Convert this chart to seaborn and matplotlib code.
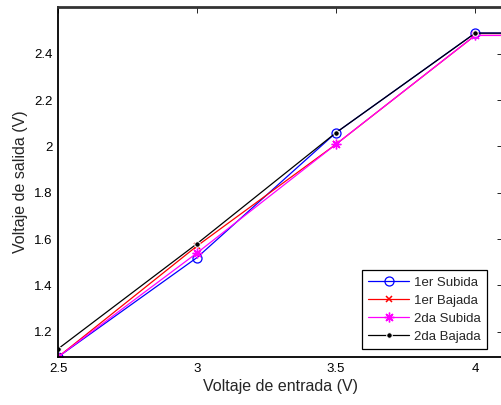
import matplotlib
matplotlib.use("Agg")
import matplotlib.pyplot as plt
import seaborn as sns
import pandas as pd

# Data
voltaje_entrada = [2.5, 3.0, 3.5, 4.0, 4.5]
subida_1 = [1.09, 1.52, 2.06, 2.49, 2.49]
bajada_1 = [1.09, 1.57, 2.01, 2.48, 2.48]
subida_2 = [1.09, 1.54, 2.01, 2.48, 2.48]
bajada_2 = [1.125, 1.58, 2.06, 2.49, 2.49]
series_names = ["1er Subida", "1er Bajada", "2da Subida", "2da Bajada"]
x_ticks = [2.5, 3, 3.5, 4]
x_tick_labels = ["2.5", "3", "3.5", "4"]
y_ticks = [1.2, 1.4, 1.6, 1.8, 2.0, 2.2, 2.4]
y_tick_labels = ["1.2", "1.4", "1.6", "1.8", "2", "2.2", "2.4"]

sns.set_style("white")
plt.rcParams["font.family"] = ["Liberation Sans", "DejaVu Sans"]

fig = plt.figure(figsize=(5.02, 4.05), dpi=100)
W, H = 502, 405
left, right, top, bottom = 58, 503, 6.5, 357
ax = fig.add_axes([left / W, 1 - bottom / H, (right - left) / W, (bottom - top) / H])

styles = [
    dict(color="#0000ff", marker="o", markersize=6.5, markerfacecolor="none",
         markeredgecolor="#0000ff", markeredgewidth=0.9),
    dict(color="#ff0000", marker="x", markersize=4.5, markeredgewidth=1.1,
         markeredgecolor="#ff0000"),
    dict(color="#ff00ff", marker=(8, 2, 0), markersize=7, markeredgewidth=1.0,
         markeredgecolor="#ff00ff"),
    dict(color="#000000", marker="o", markersize=4),
]
all_y = [subida_1, bajada_1, subida_2, bajada_2]

for name, yvals, st in zip(series_names, all_y, styles):
    df = pd.DataFrame({"x": voltaje_entrada, "y": yvals})
    sns.lineplot(data=df, x="x", y="y", ax=ax, label=name, linewidth=0.9,
                 clip_on=True, **st)

ax.set_xlim(2.5, 4.1)
ax.set_ylim(1.09, 2.605)
ax.set_xticks(x_ticks)
ax.set_xticklabels(x_tick_labels)
ax.set_yticks(y_ticks)
ax.set_yticklabels(y_tick_labels)
ax.tick_params(direction="in", length=4, width=0.6, labelsize=9.5,
               top=True, right=True, colors="black", pad=4)

for side, sp in ax.spines.items():
    sp.set_visible(True)
    sp.set_color("black")
    sp.set_linewidth(1.3)
ax.spines["top"].set_color("#333333")
ax.spines["top"].set_linewidth(2.0)

ax.set_xlabel("Voltaje de entrada (V)", fontsize=11.5, labelpad=3)
ax.set_ylabel("Voltaje de salida (V)", fontsize=11.5, labelpad=4)

leg = ax.legend(loc="lower right",
                bbox_to_anchor=((487 - left) / (right - left), (357 - 349) / (bottom - top)),
                fontsize=9.5, frameon=True, fancybox=False, framealpha=1,
                edgecolor="black", borderpad=0.45, labelspacing=0.45,
                handlelength=3.1, handletextpad=0.4, borderaxespad=0)
leg.get_frame().set_linewidth(0.9)

fig.savefig("out.png", dpi=100)
